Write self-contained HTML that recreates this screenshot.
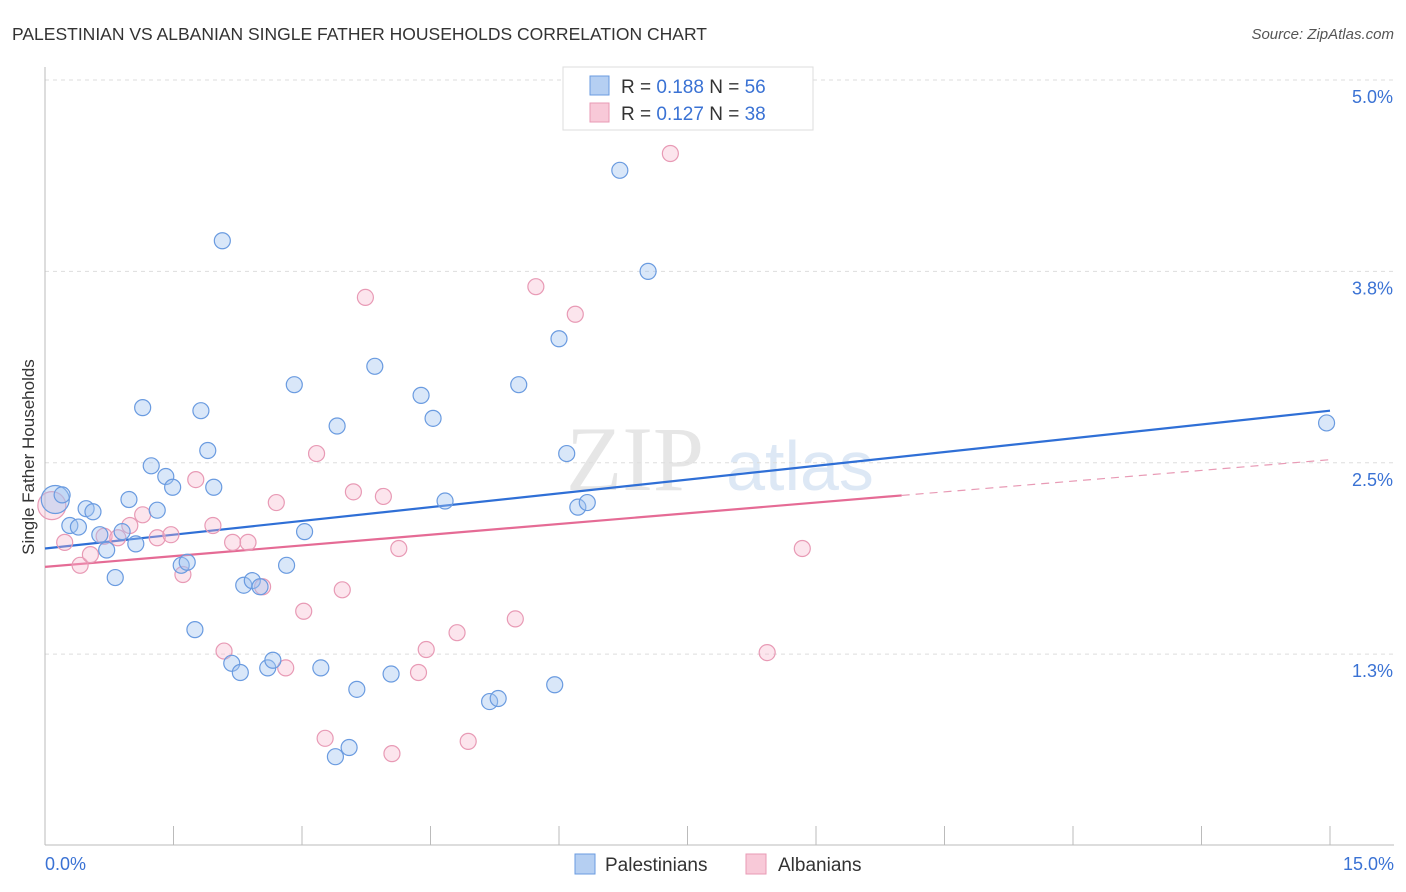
<!DOCTYPE html>
<html><head><meta charset="utf-8">
<style>
body{margin:0;background:#fff;font-family:"Liberation Sans",sans-serif;}
#wrap{position:relative;width:1406px;height:892px;overflow:hidden;}
</style></head>
<body>
<div id="wrap">
<svg id="chart" width="1406" height="892" xmlns="http://www.w3.org/2000/svg">
<text x="12" y="40" font-size="17.5" fill="#333">PALESTINIAN VS ALBANIAN SINGLE FATHER HOUSEHOLDS CORRELATION CHART</text>
<text x="1394" y="39" font-size="15" fill="#555" font-style="italic" text-anchor="end">Source: ZipAtlas.com</text>
<text x="34" y="457" font-size="17" fill="#333" text-anchor="middle" transform="rotate(-90 34 457)">Single Father Households</text>
<g><text x="635" y="490" font-size="92" fill="#e6e6e6" font-family="Liberation Serif,serif" text-anchor="middle">ZIP</text><text x="800" y="490" font-size="70" fill="#dde8f5" text-anchor="middle">atlas</text></g>
<g id="grid"></g><g id="axes"></g><g id="lines"></g><g id="pts"></g>
<g>
<rect x="563" y="67" width="250" height="63" fill="#fff" stroke="#ddd"/>
<rect x="590" y="76" width="19" height="19" fill="#b5cff2" stroke="#6a9be0"/>
<text x="621" y="93" font-size="19" fill="#333">R = <tspan fill="#3a72d4">0.188</tspan>   N = <tspan fill="#3a72d4">56</tspan></text>
<rect x="590" y="103" width="19" height="19" fill="#f8c9d8" stroke="#e89ab5"/>
<text x="621" y="120" font-size="19" fill="#333">R = <tspan fill="#3a72d4">0.127</tspan>   N = <tspan fill="#3a72d4">38</tspan></text>
</g>
<g>
<rect x="575" y="854" width="20" height="20" fill="#b5cff2" stroke="#6a9be0"/>
<text x="605" y="871" font-size="19" fill="#333">Palestinians</text>
<rect x="746" y="854" width="20" height="20" fill="#f8c9d8" stroke="#e89ab5"/>
<text x="778" y="871" font-size="19" fill="#333">Albanians</text>
</g>
</svg>
</div>
<script>
const blueX=[0.12,0.20,0.29,0.39,0.48,0.56,0.64,0.72,0.82,0.90,0.98,1.06,1.14,1.24,1.31,1.41,1.49,1.59,1.66,1.75,1.82,1.90,1.97,2.07,2.18,2.28,2.32,2.42,2.51,2.60,2.66,2.82,2.91,3.03,3.22,3.41,3.39,3.55,3.64,3.85,4.04,4.39,4.53,4.67,5.19,5.29,5.53,5.95,6.00,6.09,6.22,6.33,6.71,7.04,14.96];
const blueY=[2.26,2.29,2.09,2.08,2.20,2.18,2.03,1.93,1.75,2.05,2.26,1.97,2.86,2.48,2.19,2.41,2.34,1.83,1.85,1.41,2.84,2.58,2.34,3.95,1.19,1.13,1.70,1.73,1.69,1.16,1.21,1.83,3.01,2.05,1.16,2.74,0.58,0.64,1.02,3.13,1.12,2.94,2.79,2.25,0.94,0.96,3.01,1.05,3.31,2.56,2.21,2.24,4.41,3.75,2.76];
const pinkX=[0.08,0.23,0.41,0.53,0.69,0.85,0.99,1.14,1.31,1.47,1.61,1.76,1.96,2.09,2.19,2.37,2.54,2.70,2.81,3.02,3.17,3.27,3.47,3.60,3.74,3.95,4.05,4.13,4.36,4.45,4.81,4.94,5.49,5.73,6.19,7.30,8.43,8.84];
const pinkY=[2.22,1.98,1.83,1.90,2.02,2.01,2.09,2.16,2.01,2.03,1.77,2.39,2.09,1.27,1.98,1.98,1.69,2.24,1.16,1.53,2.56,0.70,1.67,2.31,3.58,2.28,0.60,1.94,1.13,1.28,1.39,0.68,1.48,3.65,3.47,4.52,1.26,1.94];
const blueTrend=[1.94,2.84];
const pinkTrend=[1.82,2.52];
const pinkSolidEnd=10.0;
const yTicks=[5.0,3.75,2.5,1.25];
const yTickLabels=["5.0%","3.8%","2.5%","1.3%"];
const xTicks=[0,1.5,3,4.5,6,7.5,9,10.5,12,13.5,15];
const xTickLabels=["0.0%","15.0%"];

const NS="http://www.w3.org/2000/svg";
const X=v=>45+v*(1285/15);
const Y=v=>80+(5-v)*153.1;
function mk(tag,attrs,parent){const e=document.createElementNS(NS,tag);for(const k in attrs)e.setAttribute(k,attrs[k]);document.getElementById(parent).appendChild(e);return e;}
yTicks.forEach((t,i)=>{
 const l=mk('line',{x1:45,x2:1394,y1:Y(t),y2:Y(t),stroke:'#ddd','stroke-dasharray':'4,4'},'grid');
 
 
 const tx=mk('text',{x:1393,y:Y(t)+23,'font-size':18,fill:'#3a72d4','text-anchor':'end'},'axes');
 tx.textContent=yTickLabels[i];
 
 
});
const ax=mk('line',{x1:45,x2:45,y1:67,y2:845,stroke:'#bbb'},'axes');


const bx=mk('line',{x1:45,x2:1394,y1:845,y2:845,stroke:'#bbb'},'axes');


xTicks.forEach(t=>{
 const l=mk('line',{x1:X(t),x2:X(t),y1:826,y2:845,stroke:'#bbb'},'axes');
 
 
});
const xl0=mk('text',{x:45,y:870,'font-size':18,fill:'#3a72d4'},'axes');xl0.textContent=xTickLabels[0];


const xl1=mk('text',{x:1394,y:870,'font-size':18,fill:'#3a72d4','text-anchor':'end'},'axes');xl1.textContent=xTickLabels[1];


const slope=(a)=> (a[1]-a[0])/15;
const bl=mk('line',{x1:X(0),y1:Y(blueTrend[0]),x2:X(15),y2:Y(blueTrend[1]),stroke:'#2f6fd6','stroke-width':2.2},'lines');


const pe=pinkTrend[0]+slope(pinkTrend)*pinkSolidEnd;
const pl=mk('line',{x1:X(0),y1:Y(pinkTrend[0]),x2:X(pinkSolidEnd),y2:Y(pe),stroke:'#e56b95','stroke-width':2.2},'lines');


const pd=mk('line',{x1:X(pinkSolidEnd),y1:Y(pe),x2:X(15),y2:Y(pinkTrend[1]),stroke:'#e89ab5','stroke-width':1.2,'stroke-dasharray':'8,6'},'lines');


function pts(xs,ys,fill,stroke,name){
 xs.forEach((x,i)=>{
  const r=(i===0)?14:8;
  const c=mk('circle',{cx:X(x),cy:Y(ys[i]),r:r,fill:fill,stroke:stroke,'stroke-width':1.2},'pts');
  
  
 });
}
pts(pinkX,pinkY,'rgba(245,180,203,0.35)','#e89ab5','albanians-point');
pts(blueX,blueY,'rgba(160,195,240,0.4)','#6a9be0','palestinians-point');
</script>
</body></html>
